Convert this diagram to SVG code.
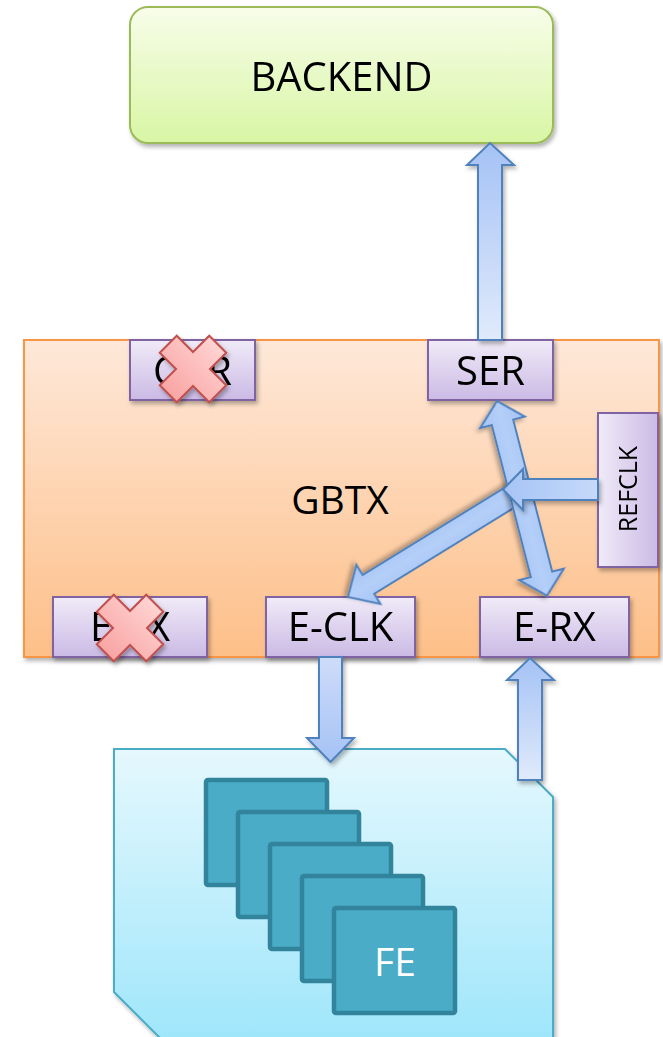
<svg xmlns="http://www.w3.org/2000/svg" width="663" height="1037" viewBox="0 0 663 1037">
<defs>
<linearGradient id="gBack" x1="0" y1="0" x2="0" y2="1"><stop offset="0" stop-color="#f8fdea"/><stop offset="1" stop-color="#d8f6a4"/></linearGradient>
<linearGradient id="gGbtx" x1="0" y1="0" x2="0" y2="1"><stop offset="0" stop-color="#fee8d9"/><stop offset="1" stop-color="#fdbf88"/></linearGradient>
<linearGradient id="gPurp" x1="0" y1="0" x2="0" y2="1"><stop offset="0" stop-color="#f0ebf8"/><stop offset="1" stop-color="#cbbae5"/></linearGradient>
<linearGradient id="gPurpH" x1="0" y1="0" x2="1" y2="0"><stop offset="0" stop-color="#f0ebf8"/><stop offset="1" stop-color="#cbbae5"/></linearGradient>
<linearGradient id="gFe" x1="0" y1="0" x2="0" y2="1"><stop offset="0" stop-color="#e5f8fd"/><stop offset="1" stop-color="#9fe6fb"/></linearGradient>
<linearGradient id="gUp" x1="0" y1="1" x2="0" y2="0"><stop offset="0" stop-color="#e0eafb"/><stop offset="1" stop-color="#a5c2f5"/></linearGradient>
<linearGradient id="gDown" x1="0" y1="0" x2="0" y2="1"><stop offset="0" stop-color="#cedcf9"/><stop offset="1" stop-color="#a5c2f5"/></linearGradient>
<linearGradient id="gLeft" x1="1" y1="0" x2="0" y2="0"><stop offset="0" stop-color="#c6d9fa"/><stop offset="1" stop-color="#a6c4f6"/></linearGradient>
<linearGradient id="gIn" x1="0" y1="0" x2="0" y2="1"><stop offset="0" stop-color="#a4c3f6"/><stop offset="0.5" stop-color="#b4cff8"/><stop offset="1" stop-color="#a4c3f6"/></linearGradient>
<linearGradient id="gX" x1="0" y1="0" x2="0" y2="1"><stop offset="0" stop-color="#ffd3d2"/><stop offset="1" stop-color="#f8a5a3"/></linearGradient>
<filter id="sh" x="-10%" y="-10%" width="130%" height="130%"><feDropShadow dx="2" dy="3" stdDeviation="2" flood-color="#000" flood-opacity="0.3"/></filter>
<polygon id="xshape" points="-12,-35 12,-35 12,-12 35,-12 35,12 12,12 12,35 -12,35 -12,12 -35,12 -35,-12 -12,-12" transform="rotate(45)"/>
</defs>
<style>
.t{font-family:"Open Sans","Liberation Sans",sans-serif;fill:#000;text-anchor:middle}
.pb{fill:url(#gPurp);stroke:#8064a2;stroke-width:2}
.arr{stroke:#4f81bd;stroke-width:2;stroke-linejoin:miter}
.card{fill:#4aacc6;stroke:#31849b;stroke-width:4.5}
.xm{fill:url(#gX);stroke:#c0504d;stroke-width:2}
</style>

<g id="backend" filter="url(#sh)">
<rect x="130" y="7" width="423" height="136" rx="18" fill="url(#gBack)" stroke="#9bbb59" stroke-width="2"/>
<text class="t" x="341.5" y="91" font-size="40">BACKEND</text>
</g>

<g id="gbtx">
<rect x="24" y="340" width="635" height="317" fill="url(#gGbtx)" stroke="#f79646" stroke-width="2" filter="url(#sh)"/>
<text class="t" x="340" y="514" font-size="39">GBTX</text>
</g>

<g id="cdr" filter="url(#sh)">
<rect class="pb" x="130" y="340" width="125" height="60"/>
<text class="t" x="192.5" y="385" font-size="40">CDR</text>
</g>
<g id="ser" filter="url(#sh)">
<rect class="pb" x="428" y="340" width="125" height="60"/>
<text class="t" x="490.5" y="385" font-size="40">SER</text>
</g>
<g id="refclk" filter="url(#sh)">
<rect x="598" y="413" width="60" height="154" fill="url(#gPurpH)" stroke="#8064a2" stroke-width="2"/>
<text class="t" transform="translate(637,489) rotate(-90)" x="0" y="0" font-size="25">REFCLK</text>
</g>
<g id="etx" filter="url(#sh)">
<rect class="pb" x="53" y="597" width="154" height="60"/>
<text class="t" x="130" y="641" font-size="40">E-TX</text>
</g>
<g id="eclk" filter="url(#sh)">
<rect class="pb" x="266" y="597" width="149" height="60"/>
<text class="t" x="340.5" y="641" font-size="40">E-CLK</text>
</g>
<g id="erx" filter="url(#sh)">
<rect class="pb" x="480" y="597" width="149" height="60"/>
<text class="t" x="554.5" y="641" font-size="40">E-RX</text>
</g>

<g id="fe-board">
<polygon points="114,749 505,749 553,797 553,1040 162,1040 114,992" fill="url(#gFe)" stroke="#4bacc6" stroke-width="2" filter="url(#sh)"/>
</g>
<g id="fe-cards">
<rect class="card" x="206" y="780" width="121" height="105" rx="2"/>
<rect class="card" x="238" y="812" width="121" height="105" rx="2"/>
<rect class="card" x="270" y="844" width="121" height="105" rx="2"/>
<rect class="card" x="302" y="876" width="121" height="105" rx="2"/>
<rect class="card" x="334" y="908" width="121" height="105" rx="2"/>
<text class="t" x="395" y="976" font-size="39" style="fill:#fff">FE</text>
</g>

<g id="connectors">
<polygon class="arr" fill="url(#gUp)" filter="url(#sh)" points="478,340 478,165 467,165 490,143 514,165 502,165 502,340"/>
<polygon class="arr" fill="url(#gDown)" filter="url(#sh)" points="319,657 319,738 307,738 330.5,762 354,738 342,738 342,657"/>
<polygon class="arr" fill="url(#gUp)" filter="url(#sh)" points="518,780 518,680 507,680 530,658 554,680 542,680 542,780"/>
<polygon class="arr" fill="url(#gIn)" filter="url(#sh)" transform="translate(530,485) rotate(148.4)" points="0,-11 189.7,-11 189.7,-23 213.7,0 189.7,23 189.7,11 0,11"/>
<polygon class="arr" fill="url(#gIn)" filter="url(#sh)" transform="translate(497,401) rotate(75.6)" points="0,0 22,-23 22,-11 179,-11 179,-23 201,0 179,23 179,11 22,11 22,23"/>
<polygon class="arr" fill="url(#gLeft)" filter="url(#sh)" points="598,479 523,479 523,469 503,489.5 523,510 523,500 598,500"/>
</g>

<g id="crosses">
<use href="#xshape" class="xm" transform="translate(193,369)" filter="url(#sh)"/>
<use href="#xshape" class="xm" transform="translate(130,628)" filter="url(#sh)"/>
</g>
</svg>
